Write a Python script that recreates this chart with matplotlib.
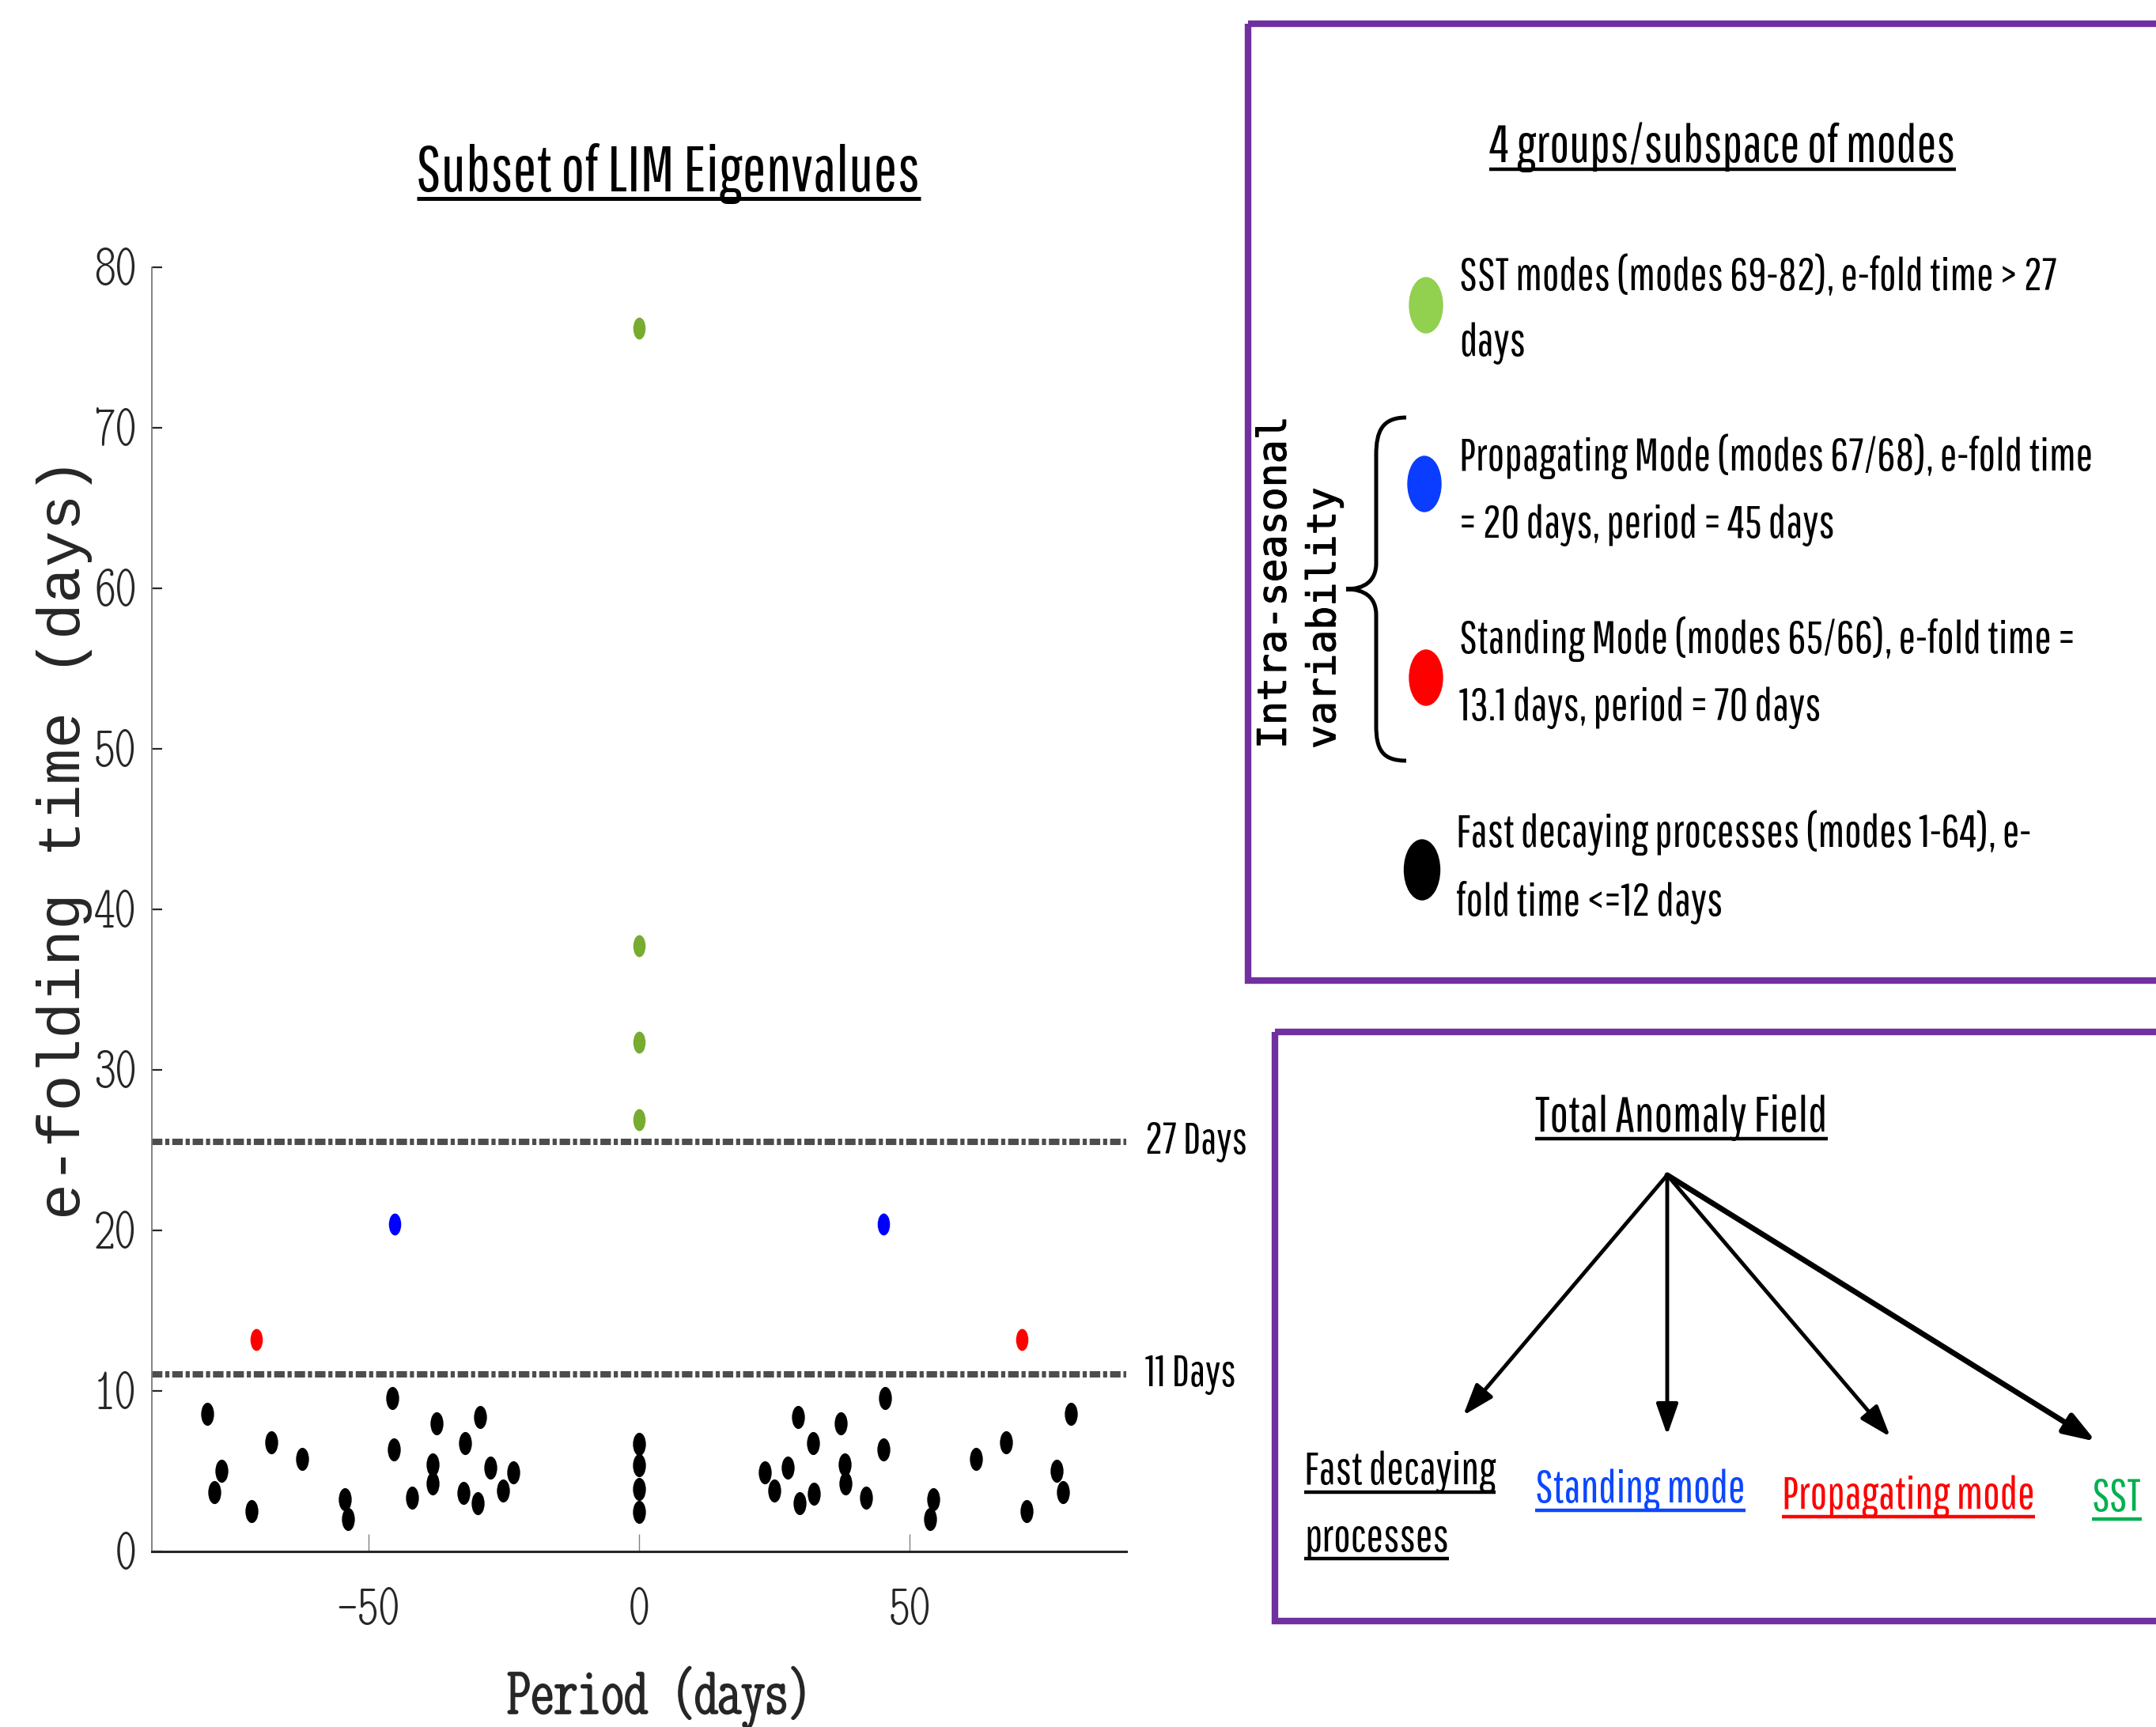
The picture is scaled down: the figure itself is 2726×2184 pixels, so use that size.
import numpy as np
import matplotlib
matplotlib.use("Agg")
import matplotlib.pyplot as plt
import matplotlib.patheffects as pe
from matplotlib.path import Path
from matplotlib.markers import MarkerStyle
from matplotlib.patches import Rectangle, Ellipse, PathPatch
from matplotlib.transforms import Affine2D, blended_transform_factory

plt.rcParams['axes.unicode_minus'] = False

W, H = 2726, 2184

# LIM eigenvalues: period (days) vs e-folding time (days)
fast_period = [-79.7, -78.4, -77.2, -71.6, -67.9, -62.3, -54.4, -53.8, -45.6, -45.3, -41.9,
               -38.1, -38.2, -37.4, -32.1, -32.4, -29.3, -29.8, -27.4, -25.2, -23.3,
               0, 0, 0, 0,
               23.2, 25.0, 27.5, 29.3, 29.7, 32.1, 32.3, 37.3, 38.0, 38.2, 41.9,
               45.5, 45.2, 54.3, 53.7, 62.2, 67.8, 71.6, 77.2, 78.3, 79.7]
fast_efold = [8.56, 3.68, 5.01, 2.48, 6.78, 5.73, 3.25, 1.99, 9.56, 6.32, 3.33,
              5.39, 4.22, 7.97, 6.75, 3.62, 8.36, 3.0, 5.19, 3.78, 4.9,
              6.68, 5.34, 3.89, 2.45,
              4.9, 3.78, 5.19, 8.37, 3.0, 6.75, 3.6, 7.97, 5.39, 4.24, 3.33,
              9.56, 6.32, 3.25, 1.99, 5.73, 6.78, 2.48, 5.01, 3.68, 8.56]
standing_period = [-70.7, 70.7]
standing_efold = [13.2, 13.2]
prop_period = [-45.1, 45.1]
prop_efold = [20.4, 20.4]
sst_period = [0, 0, 0, 0]
sst_efold = [76.2, 37.7, 31.7, 26.9]

thresholds = [25.5, 11.0]
threshold_labels = ["27 Days", "11 Days"]
xticks = [-50, 0, 50]
yticks = [0, 10, 20, 30, 40, 50, 60, 70, 80]

legend_colors = ['#92D050', '#0A3DFF', '#FF0000', '#000000']
legend_lines = [("SST modes (modes 69-82), e-fold time > 27", "days"),
                ("Propagating Mode (modes 67/68), e-fold time", "= 20 days, period = 45 days"),
                ("Standing Mode (modes 65/66), e-fold time =", "13.1 days, period = 70 days"),
                ("Fast decaying processes (modes 1-64), e-", "fold time <=12 days")]
branch_labels = ["Standing mode", "Propagating mode", "SST"]
branch_colors = ['#0B47FF', '#FF0000', '#00B050']

SANS = ['Pathway Gothic One', 'IBM Plex Sans Condensed', 'DejaVu Sans']
MONO_C = ['Latin Modern Mono Light Cond', 'Liberation Mono', 'DejaVu Sans Mono']
MONO = ['Liberation Mono', 'DejaVu Sans Mono']
WIDE = ['DejaVu Sans Mono']
PURPLE = '#7030A0'

fig = plt.figure(figsize=(W / 100, H / 100), dpi=100)
renderer = fig.canvas.get_renderer()


def fit(s, family, target, base=40):
    # font size that makes s about target pixels wide
    t = fig.text(0, 0, s, fontsize=base, family=family)
    w = t.get_window_extent(renderer).width
    t.remove()
    return base * target / w


# ---- scatter panel ----
ax = fig.add_axes([192 / W, 1 - 1961.7 / H, 1232 / W, 1624 / H])
dot = MarkerStyle(Path.unit_circle().transformed(Affine2D().scale(0.56, 1.0)))

ax.plot(fast_period, fast_efold, ls='none', marker=dot, ms=21, color='black', mec='none')
ax.plot(standing_period, standing_efold, ls='none', marker=dot, ms=20, color='#FF0000', mec='none')
ax.plot(prop_period, prop_efold, ls='none', marker=dot, ms=20, color='#0000FF', mec='none')
ax.plot(sst_period, sst_efold, ls='none', marker=dot, ms=20, color='#77AC30', mec='none')

blend = blended_transform_factory(ax.transAxes, ax.transData)
fdays = fit(threshold_labels[0], SANS, 129)
for v, lab in zip(thresholds, threshold_labels):
    ax.axhline(v, color='#4d4d4d', lw=5.8, dashes=(1.65, 0.45, 0.65, 0.45))
    ax.text(1.0195, v, lab, transform=blend, ha='left', va='center', family=SANS, fontsize=fdays)

ax.set_xlim(-90, 90)
ax.set_ylim(0, 80)
ax.set_xticks(xticks)
ax.set_yticks(yticks)
ax.spines[['top', 'right']].set_visible(False)
ax.spines['left'].set_color('#7a7a7a')
ax.spines['left'].set_linewidth(1.3)
ax.spines['bottom'].set_color('#262626')
ax.spines['bottom'].set_linewidth(2.2)
ax.tick_params(axis='y', direction='in', length=9.5, width=1.6, color='#262626', pad=14,
               labelsize=55, labelcolor='#262626')
ax.tick_params(axis='x', direction='in', length=16, width=1, color='#808080', pad=34,
               labelsize=55, labelcolor='#262626')
for lab in ax.get_xticklabels() + ax.get_yticklabels():
    lab.set_family(MONO_C)

ax.set_xlabel('Period (days)', family=MONO_C, fontsize=fit('Period (days)', MONO_C, 386),
              color='#262626', va='center',
              path_effects=[pe.withStroke(linewidth=1.5, foreground='#262626')])
ax.xaxis.set_label_coords(0.521, -0.114)
ax.set_ylabel('e-folding time (days)', family=MONO, fontsize=55, color='#262626', va='center')
ax.yaxis.set_label_coords(-0.09, 0.555)

# ---- overlay in reference pixels (origin top-left) ----
ov = fig.add_axes([0, 0, 1, 1])
ov.set_xlim(0, W)
ov.set_ylim(H, 0)
ov.axis('off')
ov.patch.set_alpha(0)


def underline(t, y, color='black', lw=3.2):
    bb = t.get_window_extent(renderer)
    ov.plot([bb.x0, bb.x1], [y, y], color=color, lw=lw, solid_capstyle='butt')


t = ov.text(845, 242, "Subset of LIM Eigenvalues", ha='center', va='baseline', family=SANS,
            fontsize=fit("Subset of LIM Eigenvalues", SANS, 637))
underline(t, 251, lw=3.6)

# box 1: groups of modes
ov.add_patch(Rectangle((1578, 30), 1400, 1210, fill=False, ec=PURPLE, lw=6, clip_on=False))
t = ov.text(2178, 205, "4 groups/subspace of modes", ha='center', va='baseline', family=SANS,
            fontsize=fit("4 groups/subspace of modes", SANS, 589))
underline(t, 214)

fleg = fit(legend_lines[0][0], SANS, 758)
dot_xy = [(1803, 386), (1801, 612), (1803, 857), (1798, 1100)]
dot_wh = [(42, 70), (42, 70), (42, 70), (45, 76)]
text_x = [1845, 1845, 1845, 1841]
baselines = [(367, 450), (595, 680), (826, 911), (1071, 1158)]
for c, (l1, l2), xy, wh, tx, (b1, b2) in zip(legend_colors, legend_lines, dot_xy, dot_wh, text_x, baselines):
    ov.add_patch(Ellipse(xy, wh[0], wh[1], color=c))
    ov.text(tx, b1, l1, ha='left', va='baseline', family=SANS, fontsize=fleg)
    ov.text(tx, b2, l2, ha='left', va='baseline', family=SANS, fontsize=fleg)

brace = Path([(1778, 528), (1748, 528), (1740, 545), (1740, 575),
              (1740, 712),
              (1740, 735), (1725, 745), (1702, 745),
              (1725, 745), (1740, 755), (1740, 778),
              (1740, 918),
              (1740, 948), (1748, 962), (1778, 962)],
             [Path.MOVETO, Path.CURVE4, Path.CURVE4, Path.CURVE4,
              Path.LINETO,
              Path.CURVE4, Path.CURVE4, Path.CURVE4,
              Path.CURVE4, Path.CURVE4, Path.CURVE4,
              Path.LINETO,
              Path.CURVE4, Path.CURVE4, Path.CURVE4])
ov.add_patch(PathPatch(brace, fill=False, lw=3.6, ec='black'))

fwide = fit("Intra-seasonal", WIDE, 420)
ov.text(1643, 947, "Intra-seasonal\nvariability", rotation=90, ha='center', va='bottom',
        multialignment='left', linespacing=1.38, family=WIDE, fontsize=fwide,
        path_effects=[pe.withStroke(linewidth=0.8, foreground='black')])

# box 2: decomposition of the anomaly field
ov.add_patch(Rectangle((1612, 1305), 1400, 745, fill=False, ec=PURPLE, lw=6, clip_on=False))
t = ov.text(2126, 1431, "Total Anomaly Field", ha='center', va='baseline', family=SANS,
            fontsize=fit("Total Anomaly Field", SANS, 370))
underline(t, 1440)

origin = (2108, 1486)
ends = [(1850, 1790), (2108, 1815), (2390, 1817), (2650, 1823)]
widths = [3.5, 3.5, 3.5, 5]
for end, lw in zip(ends, widths):
    ov.annotate('', xy=end, xytext=origin,
                arrowprops=dict(arrowstyle='-|>,head_length=0.8,head_width=0.28',
                                mutation_scale=30, lw=lw, color='black',
                                shrinkA=0, shrinkB=0))

fbr = fit("Propagating mode", SANS, 320)
t = ov.text(1649, 1877, "Fast decaying", ha='left', va='baseline', family=SANS, fontsize=fbr)
underline(t, 1887)
t = ov.text(1649, 1961, "processes", ha='left', va='baseline', family=SANS, fontsize=fbr)
underline(t, 1971)
for lab, c, x, b in zip(branch_labels, branch_colors, [1941, 2253, 2645], [1900, 1908, 1911]):
    t = ov.text(x, b, lab, ha='left', va='baseline', family=SANS, fontsize=fbr, color=c)
    underline(t, b + 10, color=c)

fig.savefig("out.png", dpi=100)
